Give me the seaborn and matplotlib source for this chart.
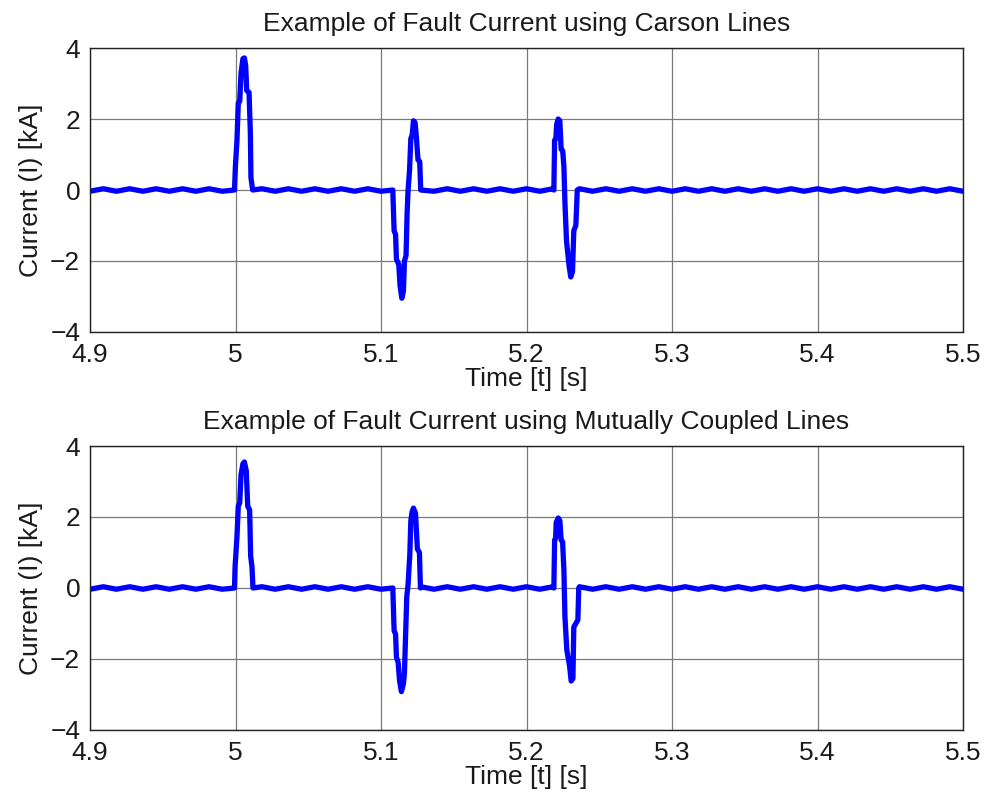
"""
Fault current traces - Carson lines vs mutually coupled lines
"""
import numpy as np
import matplotlib
matplotlib.use("Agg")
import matplotlib.pyplot as plt
import seaborn as sns

# Axis settings
X_TICKS = [4.9, 5.0, 5.1, 5.2, 5.3, 5.4, 5.5]
X_TICK_LABELS = ["4.9", "5", "5.1", "5.2", "5.3", "5.4", "5.5"]
Y_TICKS = [-4, -2, 0, 2, 4]
TITLES = ["Example of Fault Current using Carson Lines",
          "Example of Fault Current using Mutually Coupled Lines"]

BASE_T = np.linspace(4.9, 5.5, 67)
BASE_I = [-0.035, 0.035, -0.035, 0.035, -0.035, 0.035, -0.035, 0.035, -0.035, 0.035,
          -0.035, 0.035, -0.035, 0.035, -0.035, 0.035, -0.035, 0.035, -0.035, 0.035,
          -0.035, 0.035, -0.035, 0.035, -0.035, 0.035, -0.035, 0.035, -0.035, 0.035,
          -0.035, 0.035, -0.035, 0.035, -0.035, 0.035, -0.035, 0.035, -0.035, 0.035,
          -0.035, 0.035, -0.035, 0.035, -0.035, 0.035, -0.035, 0.035, -0.035, 0.035,
          -0.035, 0.035, -0.035, 0.035, -0.035, 0.035, -0.035, 0.035, -0.035, 0.035,
          -0.035, 0.035, -0.035, 0.035, -0.035, 0.035, -0.035]

# Carson lines - fault pulses [kA]
carson_p1_t = [4.9993, 4.9999, 5.0010, 5.0019, 5.0029, 5.0038, 5.0051, 5.0061,
               5.0070, 5.0077, 5.0093, 5.0102, 5.0106, 5.0118]
carson_p1_i = [0.0, 0.65, 1.4, 2.45, 2.5, 3.3, 3.7, 3.72, 3.5, 2.8, 2.75, 1.6, 0.35, 0.0]
carson_p2_t = [5.1081, 5.1090, 5.1100, 5.1106, 5.1122, 5.1131, 5.1143, 5.1154,
               5.1161, 5.1172, 5.1179, 5.1186, 5.1196, 5.1205, 5.1214, 5.1223,
               5.1234, 5.1243, 5.1254, 5.1266, 5.1273]
carson_p2_i = [0.0, -1.15, -1.25, -1.95, -2.1, -2.7, -3.05, -2.85, -2.0, -1.85,
               -0.7, 0.0, 0.55, 1.45, 1.55, 1.95, 1.9, 1.5, 0.85, 0.8, 0.0]
carson_p3_t = [5.2188, 5.2193, 5.2202, 5.2207, 5.2218, 5.2229, 5.2238, 5.2249,
               5.2257, 5.2264, 5.2275, 5.2293, 5.2304, 5.2316, 5.2325, 5.2339, 5.2349]
carson_p3_i = [0.0, 1.4, 1.45, 1.85, 2.0, 1.95, 1.15, 1.1, 0.65, -0.35, -1.45,
               -2.15, -2.45, -2.3, -1.15, -1.0, 0.0]

# Mutually coupled lines - fault pulses [kA]
coupled_p1_t = [4.9993, 4.9997, 5.0010, 5.0019, 5.0029, 5.0038, 5.0051, 5.0061,
                5.0074, 5.0084, 5.0097, 5.0104, 5.0113, 5.0120]
coupled_p1_i = [0.0, 0.6, 1.45, 2.3, 2.4, 3.2, 3.5, 3.55, 3.3, 2.3, 2.2, 0.9, 0.6, 0.0]
coupled_p2_t = [5.1081, 5.1090, 5.1100, 5.1106, 5.1118, 5.1127, 5.1140, 5.1154,
                5.1161, 5.1168, 5.1177, 5.1186, 5.1198, 5.1205, 5.1214, 5.1223,
                5.1237, 5.1250, 5.1264, 5.1271]
coupled_p2_i = [0.0, -1.2, -1.3, -1.95, -2.1, -2.6, -2.92, -2.7, -2.4, -1.45,
                -0.25, 0.1, 0.95, 1.9, 2.15, 2.25, 2.1, 1.1, 1.0, 0.0]
coupled_p3_t = [5.2188, 5.2193, 5.2200, 5.2204, 5.2218, 5.2229, 5.2238, 5.2248,
                5.2257, 5.2264, 5.2277, 5.2296, 5.2307, 5.2319, 5.2325, 5.2353, 5.2359]
coupled_p3_i = [0.0, 1.35, 1.4, 1.85, 1.97, 1.9, 1.35, 1.3, 0.5, -0.8, -1.75,
                -2.2, -2.62, -2.55, -1.1, -0.9, 0.0]


def build_trace(pulses):
    """Merge the baseline ripple with the pulse points into one trace."""
    base_t = np.asarray(BASE_T)
    base_i = np.asarray(BASE_I)
    keep = np.ones(len(base_t), dtype=bool)
    for p_t, _ in pulses:
        keep &= ~((base_t >= p_t[0]) & (base_t <= p_t[-1]))
    t = np.concatenate([base_t[keep]] + [np.asarray(p[0]) for p in pulses])
    i = np.concatenate([base_i[keep]] + [np.asarray(p[1]) for p in pulses])
    order = np.argsort(t, kind="stable")
    return t[order], i[order]


traces = [
    build_trace([(carson_p1_t, carson_p1_i), (carson_p2_t, carson_p2_i),
                 (carson_p3_t, carson_p3_i)]),
    build_trace([(coupled_p1_t, coupled_p1_i), (coupled_p2_t, coupled_p2_i),
                 (coupled_p3_t, coupled_p3_i)]),
]

sns.set_theme(style="white")
plt.rcParams['font.family'] = ['Liberation Sans', 'DejaVu Sans']
plt.rcParams['text.color'] = "#1a1a1a"
plt.rcParams['axes.labelcolor'] = "#1a1a1a"
plt.rcParams['xtick.color'] = "#1a1a1a"
plt.rcParams['ytick.color'] = "#1a1a1a"

FS = 19
fig = plt.figure(figsize=(9.87, 7.99), dpi=100)
axes_pos = [[0.0912, 0.5845, 0.8845, 0.3554],
            [0.0912, 0.0864, 0.8845, 0.3554]]

for pos, (t, i), title in zip(axes_pos, traces, TITLES):
    ax = fig.add_axes(pos)
    sns.lineplot(x=t, y=i, sort=False, estimator=None, color="#0000ff",
                 linewidth=3.8, ax=ax)
    ax.set_xlim(4.9, 5.5)
    ax.set_ylim(-4, 4)
    ax.set_xticks(X_TICKS)
    ax.set_xticklabels(X_TICK_LABELS)
    ax.set_yticks(Y_TICKS)
    ax.grid(True, color="#7a7a7a", linewidth=0.9)
    ax.tick_params(axis="x", length=0, labelsize=FS, pad=8)
    ax.tick_params(axis="y", length=0, labelsize=FS, pad=7)
    for spine in ax.spines.values():
        spine.set_color("#222222")
        spine.set_linewidth(1.0)
    ax.set_title(title, fontsize=FS, pad=12)
    ax.set_xlabel("Time [t] [s]", fontsize=FS, labelpad=0)
    ax.set_ylabel("Current (I) [kA]", fontsize=FS, labelpad=5)

fig.savefig("out.png", dpi=100)
